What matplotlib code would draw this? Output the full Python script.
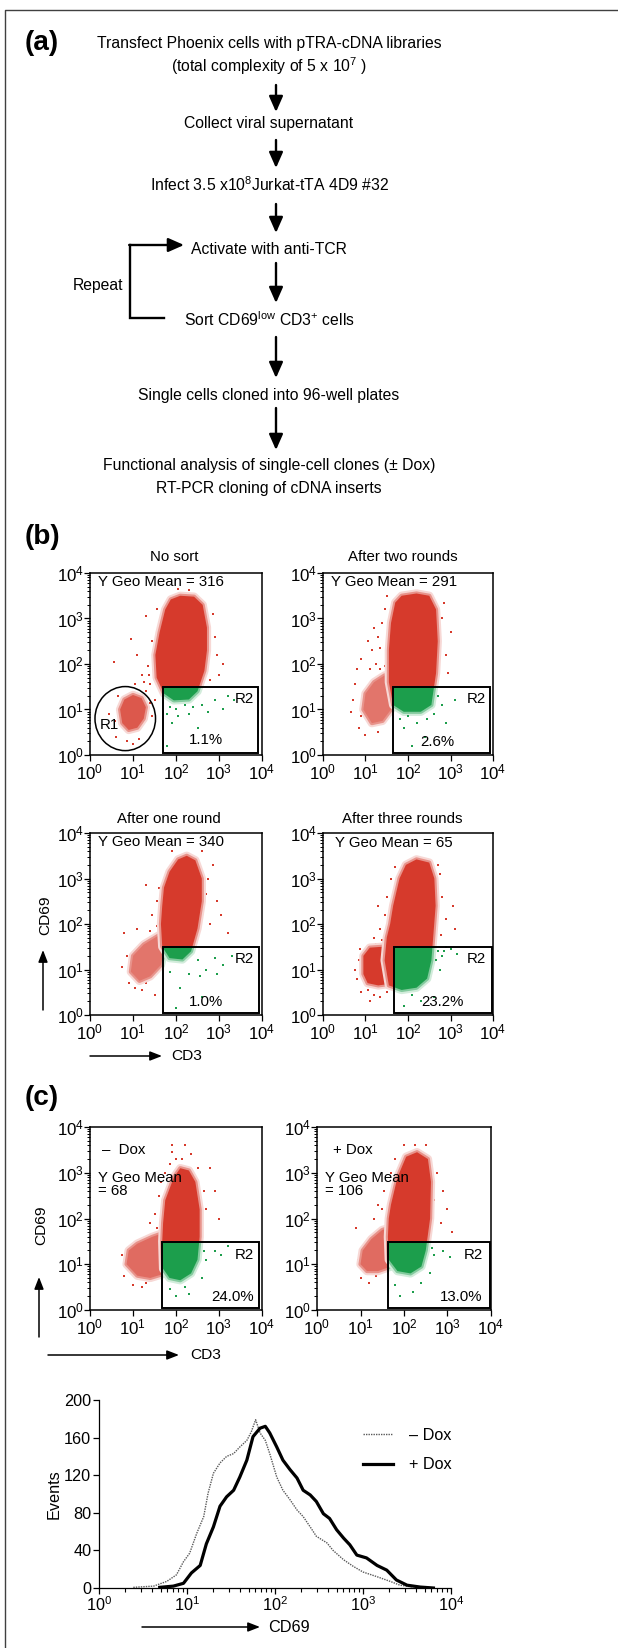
import numpy as np
import matplotlib
matplotlib.use('Agg')
import matplotlib.pyplot as plt
from matplotlib import font_manager
from matplotlib.colors import to_rgb
from matplotlib.patches import Polygon, Rectangle, Ellipse

installed = {f.name for f in font_manager.fontManager.ttflist}
if 'Liberation Sans Narrow' in installed:
    FONT, K, KF = 'Liberation Sans Narrow', 1 / 0.82, 1 / 0.82
else:
    FONT, K, KF = 'Liberation Sans', 1.06, 1.0
plt.rcParams['font.family'] = [FONT, 'DejaVu Sans']
plt.rcParams['mathtext.fontset'] = 'custom'
plt.rcParams['mathtext.rm'] = FONT
plt.rcParams['mathtext.it'] = FONT
plt.rcParams['mathtext.default'] = 'regular'

RED = '#d63a2c'
GREEN = '#1c9e4c'

# ---- (a) flow chart text
steps = [
    ["Transfect Phoenix cells with pTRA-cDNA libraries",
     "(total complexity of 5 x 10$^{7}$ )"],
    ["Collect viral supernatant"],
    ["Infect 3.5 x10$^{8}$Jurkat-tTA 4D9 #32"],
    ["Activate with anti-TCR"],
    ["Sort CD69$^{low}$ CD3$^{+}$ cells"],
    ["Single cells cloned into 96-well plates"],
    ["Functional analysis of single-cell clones (\u00b1 Dox)",
     "RT-PCR cloning of cDNA inserts"],
]

# ---- (b)/(c) dot plots: outlines and stray events in log10(CD3), log10(CD69)
b1_cloud = [(1.62, 2.7), (1.75, 3.2), (1.88, 3.42), (2.1, 3.5), (2.42, 3.48), (2.62, 3.3),
            (2.72, 2.8), (2.72, 2.3), (2.66, 1.85), (2.5, 1.4), (2.3, 1.22), (1.95, 1.2),
            (1.72, 1.35), (1.55, 1.7), (1.52, 2.2)]
b1_arm = [(0.7, 1.0), (0.8, 1.22), (1.0, 1.32), (1.2, 1.25), (1.3, 1.05), (1.25, 0.8),
          (1.1, 0.6), (0.9, 0.55), (0.75, 0.7)]
b1_red = [(0.55, 2.05), (0.95, 2.55), (1.1, 2.2), (1.2, 1.75), (1.35, 1.95), (1.4, 1.55),
          (1.05, 1.55), (0.6, 0.4), (0.85, 0.3), (1.45, 0.85), (1.6, 2.9), (2.9, 2.6),
          (3.1, 2.0), (2.85, 3.1), (3.0, 1.75), (1.3, 3.05), (0.45, 0.9), (1.0, 0.25),
          (1.45, 2.5), (2.95, 2.2), (1.3, 1.4), (1.5, 1.2), (1.25, 1.6), (1.38, 1.75),
          (1.48, 1.95), (0.65, 1.3), (0.58, 0.75), (1.15, 0.35), (1.4, 1.15), (2.8, 2.35),
          (2.78, 1.65), (1.55, 3.2), (2.05, 3.65), (2.3, 3.62)]
b1_green = [(2.0, 1.0), (2.3, 0.9), (2.6, 1.1), (2.9, 1.2), (3.2, 1.3), (1.9, 0.7),
            (2.5, 0.6), (3.1, 1.0), (1.8, 0.2), (2.2, 1.1), (1.85, 1.05), (2.05, 0.85),
            (1.78, 0.9), (2.4, 1.05), (2.75, 0.95), (3.35, 1.2)]

b2_cloud = [(1.6, 2.9), (1.7, 3.35), (1.85, 3.5), (2.2, 3.55), (2.5, 3.5), (2.66, 3.2),
            (2.7, 2.5), (2.66, 1.8), (2.55, 1.1), (2.3, 0.95), (1.9, 0.95), (1.65, 1.1),
            (1.55, 1.6), (1.55, 2.3)]
b2_arm = [(0.95, 1.0), (1.0, 1.35), (1.2, 1.6), (1.45, 1.75), (1.6, 1.6), (1.6, 1.0),
          (1.4, 0.75), (1.15, 0.7)]
b2_red = [(0.8, 1.9), (0.9, 2.1), (1.05, 2.5), (1.15, 2.3), (1.3, 2.6), (1.4, 2.9),
          (1.25, 2.0), (1.45, 3.2), (0.7, 1.2), (0.85, 0.6), (1.0, 0.45), (1.3, 0.5),
          (2.8, 3.0), (2.9, 2.2), (3.0, 2.7), (1.5, 3.5), (1.35, 1.9), (1.55, 2.55),
          (0.75, 1.55), (0.9, 0.85), (1.2, 2.8), (1.35, 2.35), (1.45, 1.95), (1.5, 2.15),
          (0.65, 0.95), (1.1, 1.9), (2.85, 3.35), (2.95, 1.8)]
b2_green = [(2.6, 0.9), (2.8, 1.1), (2.9, 0.7), (2.2, 0.7), (1.9, 0.6), (2.4, 0.4),
            (2.1, 0.2), (3.1, 1.2), (2.0, 0.85), (2.7, 1.3), (2.45, 0.8), (1.8, 0.8)]

b3_cloud = [(1.72, 2.8), (1.85, 3.15), (2.05, 3.42), (2.25, 3.5), (2.45, 3.4), (2.6, 3.0),
            (2.6, 2.5), (2.5, 1.9), (2.35, 1.4), (2.15, 1.22), (1.85, 1.25), (1.68, 1.5),
            (1.65, 2.0), (1.68, 2.4)]
b3_arm = [(0.95, 0.95), (1.0, 1.3), (1.25, 1.55), (1.6, 1.75), (1.75, 1.5), (1.65, 1.1),
          (1.4, 0.85), (1.15, 0.75)]
b3_red = [(1.3, 2.85), (0.85, 1.3), (0.8, 1.8), (1.1, 1.9), (1.45, 2.2), (1.55, 2.5),
          (2.75, 3.0), (2.95, 2.5), (3.05, 2.2), (2.8, 2.0), (1.2, 0.55), (1.5, 0.45),
          (0.9, 0.7), (1.9, 3.6), (2.6, 3.6), (3.2, 1.8), (1.4, 1.85), (1.55, 1.95),
          (0.75, 1.05), (1.3, 0.7), (1.6, 2.8), (2.7, 2.65), (2.85, 3.3), (1.05, 0.6)]
b3_green = [(2.5, 1.2), (2.7, 1.0), (2.9, 1.25), (3.1, 1.1), (2.3, 0.9), (2.1, 0.6),
            (1.85, 0.95), (3.3, 1.3), (2.6, 0.4), (2.0, 0.15), (2.55, 0.85), (2.95, 0.9)]

b4_cloud = [(1.65, 2.4), (1.8, 3.0), (1.95, 3.3), (2.2, 3.42), (2.5, 3.35), (2.62, 3.0),
            (2.65, 2.4), (2.6, 1.8), (2.55, 1.2), (2.45, 0.8), (2.2, 0.6), (1.85, 0.55),
            (1.55, 0.65), (1.45, 1.2), (1.5, 1.7), (1.58, 2.0)]
b4_arm = [(0.95, 0.9), (0.95, 1.3), (1.1, 1.48), (1.7, 1.52), (1.7, 0.7), (1.3, 0.65),
          (1.05, 0.7)]
b4_red = [(0.8, 0.8), (0.85, 1.2), (0.9, 0.5), (1.1, 0.3), (1.2, 0.45), (1.35, 0.4),
          (1.2, 1.7), (1.35, 1.9), (1.45, 2.2), (1.3, 2.4), (1.5, 2.6), (1.6, 3.0),
          (2.75, 3.1), (2.8, 2.6), (2.9, 2.1), (3.05, 2.4), (3.1, 1.9), (1.7, 0.3),
          (0.75, 1.0), (0.88, 1.45), (1.25, 1.55), (1.4, 1.65), (1.5, 0.5), (1.05, 0.55),
          (1.7, 3.25), (2.7, 3.3), (2.78, 1.75)]
b4_green = [(2.7, 1.4), (2.8, 1.3), (2.9, 1.5), (3.0, 1.45), (2.75, 1.0), (2.6, 0.4),
            (2.3, 0.3), (1.9, 0.2), (2.1, 0.45), (3.15, 1.35), (2.65, 1.2), (2.85, 1.4)]

c1_cloud = [(1.75, 2.4), (1.95, 2.9), (2.1, 3.1), (2.3, 3.05), (2.45, 2.8), (2.55, 2.2),
            (2.55, 1.6), (2.5, 1.1), (2.35, 0.8), (2.1, 0.65), (1.85, 0.7), (1.7, 0.9),
            (1.68, 1.5), (1.7, 1.9)]
c1_arm = [(0.85, 1.0), (0.9, 1.3), (1.1, 1.45), (1.45, 1.6), (1.75, 1.7), (1.75, 0.8),
          (1.4, 0.7), (1.1, 0.75)]
c1_red = [(1.0, 0.55), (1.2, 0.5), (0.8, 0.75), (1.5, 2.1), (1.6, 2.5), (1.4, 1.9),
          (1.75, 3.0), (2.8, 3.1), (2.9, 2.6), (2.7, 2.2), (3.0, 2.0), (1.9, 3.6),
          (2.2, 3.6), (1.65, 2.8), (2.0, 3.3), (2.35, 3.4), (1.85, 3.2), (2.15, 3.3),
          (2.5, 3.1), (1.55, 1.8), (0.75, 1.2), (1.3, 0.6), (2.65, 2.6), (1.9, 3.45)]
c1_green = [(2.7, 1.1), (2.9, 1.3), (3.05, 1.2), (2.6, 0.7), (2.0, 0.3), (2.3, 0.35),
            (1.85, 0.45), (3.2, 1.4), (2.65, 1.3), (2.2, 0.5)]

c2_cloud = [(1.7, 2.3), (1.85, 2.9), (2.05, 3.35), (2.3, 3.45), (2.55, 3.3), (2.62, 2.8),
            (2.6, 2.0), (2.5, 1.3), (2.4, 0.95), (2.15, 0.8), (1.85, 0.85), (1.65, 1.1),
            (1.63, 1.6), (1.65, 2.0)]
c2_arm = [(1.0, 1.0), (1.05, 1.3), (1.25, 1.55), (1.5, 1.75), (1.7, 1.8), (1.7, 0.95),
          (1.4, 0.85), (1.15, 0.85)]
c2_red = [(1.3, 2.0), (1.4, 2.3), (1.55, 2.6), (1.7, 3.0), (1.6, 1.9), (1.45, 1.7),
          (0.9, 1.8), (2.75, 3.0), (2.9, 2.6), (3.0, 2.2), (2.85, 1.9), (3.1, 1.7),
          (1.2, 0.6), (1.0, 0.7), (2.0, 3.6), (2.5, 3.6), (1.5, 2.2), (1.8, 3.3),
          (0.95, 1.1), (1.35, 0.75), (2.7, 2.4), (2.25, 3.6)]
c2_green = [(2.7, 1.2), (2.9, 1.3), (2.6, 0.8), (2.2, 0.4), (2.4, 0.6), (1.9, 0.3),
            (3.05, 1.15), (1.8, 0.55), (2.65, 1.35)]

# R2 gates: log10 CD3 from/to, log10 CD69 from/to
gates = {
    'b1': (1.70, 3.90, 0.04, 1.49),
    'b2': (1.64, 3.93, 0.05, 1.49),
    'b3': (1.69, 3.93, 0.05, 1.50),
    'b4': (1.66, 3.97, 0.05, 1.49),
    'c1': (1.67, 3.93, 0.05, 1.49),
    'c2': (1.63, 3.98, 0.05, 1.49),
}
titles = {'b1': 'No sort', 'b2': 'After two rounds',
          'b3': 'After one round', 'b4': 'After three rounds'}
geo_means = {'b1': 316, 'b2': 291, 'b3': 340, 'b4': 65, 'c1': 68, 'c2': 106}
r2_pct = {'b1': '1.1%', 'b2': '2.6%', 'b3': '1.0%', 'b4': '23.2%',
          'c1': '24.0%', 'c2': '13.0%'}

# ---- (c) CD69 histogram, log10(CD69) vs events
minus_dec = [0.39, 0.62, 0.77, 0.88, 0.96, 1.03, 1.11, 1.19, 1.24, 1.30, 1.375, 1.45,
             1.53, 1.60, 1.68, 1.73, 1.78, 1.83, 1.89, 1.94, 2.02, 2.09, 2.17, 2.25,
             2.32, 2.40, 2.47, 2.59, 2.66, 2.78, 2.89, 3.00, 3.16, 3.31, 3.42, 3.57]
minus_cnt = [0.7, 2, 7, 14, 28, 37, 58, 76, 101, 122, 133, 140, 143, 150, 157, 166, 179,
             165, 157, 143, 118, 104, 94, 83, 76, 65, 55, 48, 40, 30, 23, 17, 12, 7, 3, 1]
plus_dec = [0.69, 0.845, 0.96, 1.05, 1.15, 1.22, 1.30, 1.375, 1.45, 1.53, 1.60, 1.68,
            1.75, 1.83, 1.89, 1.94, 2.02, 2.09, 2.17, 2.25, 2.32, 2.40, 2.47, 2.55, 2.62,
            2.70, 2.78, 2.85, 2.93, 3.04, 3.16, 3.27, 3.38, 3.50, 3.65, 3.80]
plus_cnt = [0.7, 2, 5, 16, 24, 47, 65, 87, 97, 104, 118, 136, 161, 170, 172, 165, 150,
            136, 126, 117, 104, 99, 92, 79, 74, 62, 53, 46, 35, 32, 24, 19, 8.5, 3, 1, 0]

W, H = 618, 1648
fig = plt.figure(figsize=(W / 100, H / 100), dpi=100)


def box(l, t, r, b):
    return [l / W, 1 - b / H, (r - l) / W, (b - t) / H]


def tint(c, f):
    rgb = np.array(to_rgb(c))
    return tuple(rgb + (1 - rgb) * f)


ax0 = fig.add_axes([0, 0, 1, 1])
ax0.set_xlim(0, W)
ax0.set_ylim(H, 0)
ax0.axis('off')
ax0.patch.set_alpha(0)

# outer frame
ax0.plot([5, 5, W], [H, 10, 10], color='0.25', lw=1)

for lab, y in [('(a)', 43), ('(b)', 537), ('(c)', 1098)]:
    ax0.text(25, y, lab, fontsize=19 * K, fontweight='bold', va='center', ha='left')

# flow chart
step_y = [[43, 66], [123], [185], [249], [320], [395], [465, 488]]
for lines, ys in zip(steps, step_y):
    for s, y in zip(lines, ys):
        ax0.text(269, y, s, fontsize=11.3 * KF, ha='center', va='center')

arrow_style = dict(arrowstyle='-|>,head_length=0.95,head_width=0.42', lw=1.7,
                   color='k', shrinkA=0, shrinkB=0, mutation_scale=10)
for y0, y1 in [(85, 112), (140, 168), (204, 233), (263, 303), (337, 378), (408, 450)]:
    ax0.annotate('', xy=(276, y1), xytext=(276, y0), arrowprops=arrow_style)

# repeat loop
ax0.plot([164, 130, 130], [318, 318, 245], color='k', lw=1.7, solid_joinstyle='miter')
ax0.annotate('', xy=(184, 245), xytext=(129.2, 245), arrowprops=arrow_style)
ax0.text(123, 285, 'Repeat', fontsize=11.3 * KF, ha='right', va='center')


def dec(pts):
    return 10 ** np.asarray(pts, dtype=float)


def dot_plot(key, rect, cloud, arm, arm_tint, red_pts, green_pts, geo_xy, geo_text,
             r2_xy, pct_xy, pct_ha):
    ax = fig.add_axes(rect)
    ax.set_xscale('log')
    ax.set_yscale('log')
    ax.set_xlim(1, 1e4)
    ax.set_ylim(1, 1e4)
    ax.set_xticks([1, 10, 100, 1000, 10000])
    ax.set_yticks([1, 10, 100, 1000, 10000])
    gx0, gx1, gy0, gy1 = gates[key]
    gate = Rectangle((10 ** gx0, 10 ** gy0), 10 ** gx1 - 10 ** gx0, 10 ** gy1 - 10 ** gy0,
                     fill=False, ec='k', lw=1.4, zorder=6)
    ax.add_patch(gate)
    blank = Rectangle((10 ** gx0, 10 ** gy0), 10 ** gx1 - 10 ** gx0, 10 ** gy1 - 10 ** gy0,
                      fc='white', ec='none', zorder=3)
    ax.add_patch(blank)
    for pts, f, z in [(arm, arm_tint, 0), (cloud, 0.0, 0.5)]:
        for col, zb, clip in [(RED, 1.5, False), (GREEN, 4, True)]:
            layers = [
                Polygon(dec(pts), closed=True, fc='none', ec=tint(col, 0.8), lw=6,
                        joinstyle='round', zorder=zb + z),
                Polygon(dec(pts), closed=True, fc='none', ec=tint(col, 0.45), lw=3,
                        joinstyle='round', zorder=zb + z + 0.05),
                Polygon(dec(pts), closed=True, fc=tint(col, f), ec='none',
                        zorder=zb + z + 0.1),
            ]
            for p in layers:
                ax.add_patch(p)
                if clip:
                    p.set_clip_path(gate)
    r = dec(red_pts)
    ax.scatter(r[:, 0], r[:, 1], s=3.5, c=RED, lw=0, marker='s', zorder=1)
    g = dec(green_pts)
    ax.scatter(g[:, 0], g[:, 1], s=3.5, c=GREEN, lw=0, marker='s', zorder=5)

    fs = 10.2 * K
    ax.text(geo_xy[0], geo_xy[1], geo_text, transform=ax.transAxes, fontsize=fs,
            ha='left', va='top', zorder=7, linespacing=0.95)
    ax.text(r2_xy[0], r2_xy[1], 'R2', transform=ax.transAxes, fontsize=fs,
            ha='center', va='center', zorder=7)
    ax.text(pct_xy[0], pct_xy[1], r2_pct[key], transform=ax.transAxes, fontsize=fs,
            ha=pct_ha, va='center', zorder=7)

    for sp in ax.spines.values():
        sp.set_linewidth(1.1)
    ax.tick_params(which='major', length=4, width=0.9, labelsize=11.5 * K, pad=1.5)
    ax.tick_params(which='minor', length=2.2, width=0.7)
    ax.tick_params(axis='y', pad=0.5)
    return ax


px = {
    'b1': (90, 573, 262, 755), 'b2': (323, 573, 493, 755),
    'b3': (90, 833, 262, 1015), 'b4': (323, 833, 493, 1015),
    'c1': (90, 1127, 262, 1310), 'c2': (317, 1127, 491, 1310),
}

ax_b1 = dot_plot('b1', box(*px['b1']), b1_cloud, b1_arm, 0.15, b1_red, b1_green,
                 (0.045, 0.99), 'Y Geo Mean = %d' % geo_means['b1'],
                 (0.9, 0.31), (0.675, 0.08), 'center')
ax_b1.add_patch(Ellipse((0.205, 0.2), 0.352, 0.352, transform=ax_b1.transAxes,
                        fill=False, ec='k', lw=1.1, zorder=7))
ax_b1.text(0.11, 0.165, 'R1', transform=ax_b1.transAxes, fontsize=10.2 * K,
           ha='center', va='center', zorder=7)
dot_plot('b2', box(*px['b2']), b2_cloud, b2_arm, 0.3, b2_red, b2_green,
         (0.05, 0.99), 'Y Geo Mean = %d' % geo_means['b2'],
         (0.9, 0.31), (0.675, 0.07), 'center')
dot_plot('b3', box(*px['b3']), b3_cloud, b3_arm, 0.3, b3_red, b3_green,
         (0.045, 0.99), 'Y Geo Mean = %d' % geo_means['b3'],
         (0.9, 0.31), (0.675, 0.07), 'center')
dot_plot('b4', box(*px['b4']), b4_cloud, b4_arm, 0.0, b4_red, b4_green,
         (0.07, 0.985), 'Y Geo Mean = %d' % geo_means['b4'],
         (0.9, 0.31), (0.705, 0.07), 'center')
ax_c1 = dot_plot('c1', box(*px['c1']), c1_cloud, c1_arm, 0.25, c1_red, c1_green,
                 (0.045, 0.76), 'Y Geo Mean\n= %d' % geo_means['c1'],
                 (0.9, 0.3), (0.95, 0.07), 'right')
ax_c1.text(0.07, 0.875, '\u2013  Dox', transform=ax_c1.transAxes, fontsize=10.2 * K,
           ha='left', va='center')
ax_c2 = dot_plot('c2', box(*px['c2']), c2_cloud, c2_arm, 0.25, c2_red, c2_green,
                 (0.046, 0.76), 'Y Geo Mean\n= %d' % geo_means['c2'],
                 (0.9, 0.3), (0.95, 0.07), 'right')
ax_c2.text(0.09, 0.875, '+ Dox', transform=ax_c2.transAxes, fontsize=10.2 * K,
           ha='left', va='center')

for key, xc, y in [('b1', 174, 557), ('b2', 403, 557), ('b3', 169, 819), ('b4', 402, 819)]:
    ax0.text(xc, y, titles[key], fontsize=10.2 * K, ha='center', va='center')

# axis names with arrows
thin = dict(arrowstyle='-|>,head_length=0.9,head_width=0.35', lw=1.1, color='k',
            shrinkA=0, shrinkB=0, mutation_scale=8)
ax0.text(45, 915, 'CD69', rotation=90, fontsize=10.5 * K, ha='center', va='center')
ax0.annotate('', xy=(43, 950), xytext=(43, 1010), arrowprops=thin)
ax0.annotate('', xy=(162, 1056), xytext=(90, 1056), arrowprops=thin)
ax0.text(171, 1056, 'CD3', fontsize=10.5 * K, ha='left', va='center')
ax0.text(41, 1225, 'CD69', rotation=90, fontsize=10.5 * K, ha='center', va='center')
ax0.annotate('', xy=(39, 1277), xytext=(39, 1337), arrowprops=thin)
ax0.annotate('', xy=(179, 1355), xytext=(48, 1355), arrowprops=thin)
ax0.text(190, 1355, 'CD3', fontsize=10.5 * K, ha='left', va='center')

# histogram
hx = fig.add_axes(box(99, 1400, 451, 1588))
hx.plot(dec(minus_dec), minus_cnt, color='0.35', lw=1.0, ls=(0, (1, 0.8)),
        label='\u2013 Dox')
hx.plot(dec(plus_dec), plus_cnt, color='k', lw=2.3, label='+ Dox')
hx.set_xscale('log')
hx.set_xlim(1, 1e4)
hx.set_ylim(0, 200)
hx.set_yticks([0, 40, 80, 120, 160, 200])
hx.spines['top'].set_visible(False)
hx.spines['right'].set_visible(False)
for sp in ['left', 'bottom']:
    hx.spines[sp].set_linewidth(0.9)
hx.tick_params(which='major', length=4, width=0.9, labelsize=11 * K, pad=1.5)
hx.tick_params(which='minor', length=3, width=0.8)
hx.set_ylabel('Events', fontsize=11 * K, labelpad=2)
hx.legend(frameon=False, loc='upper left', bbox_to_anchor=(0.71, 0.93),
          handlelength=1.8, handletextpad=1.0, labelspacing=0.9, fontsize=11 * K)
ax0.annotate('', xy=(260, 1627), xytext=(142, 1627), arrowprops=thin)
ax0.text(268, 1628, 'CD69', fontsize=11 * K, ha='left', va='center')

fig.savefig('out.png', dpi=100)
